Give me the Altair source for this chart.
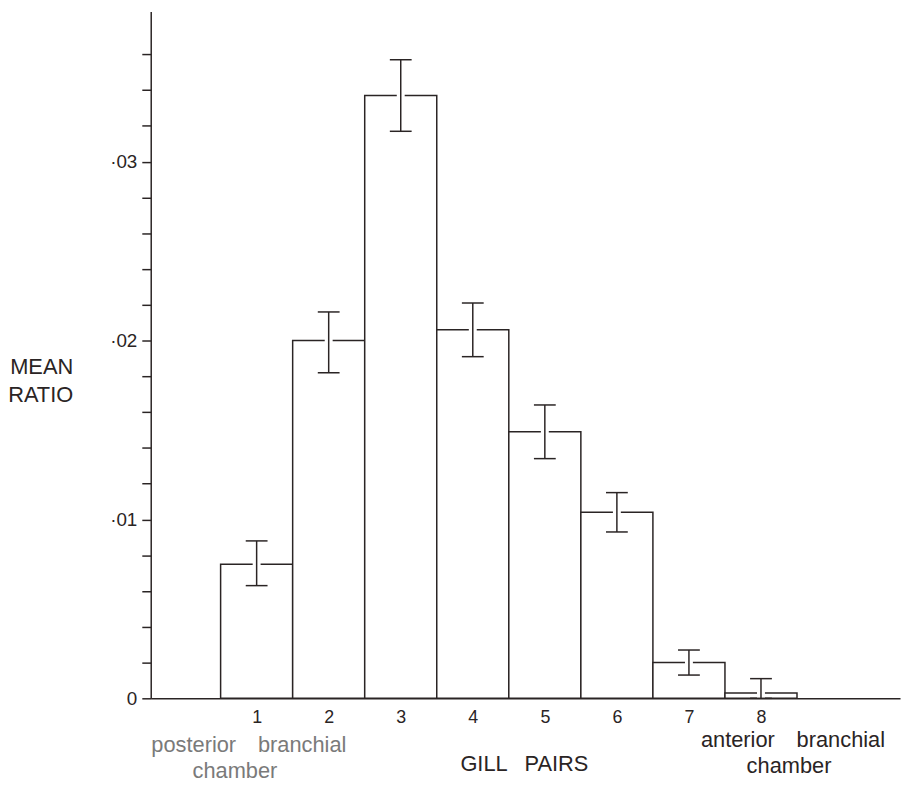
import altair as alt
import pandas as pd

# ---- data ----
gill = [1, 2, 3, 4, 5, 6, 7, 8]
mean_ratio = [0.0075, 0.0200, 0.0337, 0.0206, 0.0149, 0.0104, 0.0020, 0.0003]
err_upper = [0.0088, 0.0216, 0.0357, 0.0221, 0.0164, 0.0115, 0.0027, 0.0011]
err_lower = [0.0063, 0.0182, 0.0317, 0.0191, 0.0134, 0.0093, 0.0013, 0.0000]

y_tick_values = [0, 0.002, 0.004, 0.006, 0.008, 0.01, 0.012, 0.014, 0.016, 0.018,
                 0.02, 0.022, 0.024, 0.026, 0.028, 0.03, 0.032, 0.034, 0.036]
y_tick_labels = {0: "0", 0.01: "·01", 0.02: "·02", 0.03: "·03"}
x_tick_values = [1, 2, 3, 4, 5, 6, 7, 8]

INK = "#2a2424"
GREY = "#7a7a7a"
FONT = "Liberation Sans"

df = pd.DataFrame({"gill": gill, "mean": mean_ratio, "lo": err_lower, "hi": err_upper})
df["left"] = df["gill"] - 0.5
df["right"] = df["gill"] + 0.5

label_expr = " : ".join(
    [f"datum.value == {k} ? '{v}'" for k, v in y_tick_labels.items()]
) + " : ''"

x_scale = alt.Scale(domain=[-0.47, 9.93], nice=False, zero=False)
y_scale = alt.Scale(domain=[0, 0.0384], nice=False)

x_axis = alt.Axis(values=x_tick_values, format="d", ticks=False, labelFontSize=18,
                  labelPadding=10, labelFont=FONT, labelColor=INK, title=None,
                  domainColor=INK, domainWidth=1.5, grid=False, zindex=1)
y_axis = alt.Axis(values=y_tick_values, labelExpr=label_expr, tickSize=9, tickWidth=1.5,
                  tickColor=INK, labelFontSize=19, labelFont=FONT, labelColor=INK,
                  labelPadding=5, title=None, domainColor=INK, domainWidth=1.5,
                  grid=False, zindex=1)

base = alt.Chart(df)

bars = base.mark_bar(fill="white", stroke=INK, strokeWidth=1.5).encode(
    x=alt.X("left:Q", scale=x_scale, axis=x_axis),
    x2="right:Q",
    y=alt.Y("mean:Q", scale=y_scale, axis=y_axis),
    y2=alt.Y2(datum=0),
)

halo = base.mark_rule(color="white", strokeWidth=8).encode(
    x=alt.X("gill:Q", scale=x_scale, axis=x_axis),
    y=alt.Y("lo:Q", scale=y_scale, axis=y_axis),
    y2="hi:Q",
)

err = base.mark_rule(color=INK, strokeWidth=1.5).encode(
    x=alt.X("gill:Q", scale=x_scale, axis=x_axis),
    y=alt.Y("lo:Q", scale=y_scale, axis=y_axis),
    y2="hi:Q",
)

cap_hi = base.mark_tick(orient="horizontal", size=22, thickness=1.5, color=INK, opacity=1).encode(
    x=alt.X("gill:Q", scale=x_scale, axis=x_axis),
    y=alt.Y("hi:Q", scale=y_scale, axis=y_axis),
)
cap_lo = base.mark_tick(orient="horizontal", size=22, thickness=1.5, color=INK, opacity=1).encode(
    x=alt.X("gill:Q", scale=x_scale, axis=x_axis),
    y=alt.Y("lo:Q", scale=y_scale, axis=y_axis),
)


def label(text, x, y, color=INK, size=22):
    return alt.Chart(pd.DataFrame({"t": [text]})).mark_text(
        align="center", baseline="middle", font=FONT, fontSize=size, color=color
    ).encode(x=alt.value(x), y=alt.value(y), text="t:N")


texts = [
    label("MEAN", -110, 359),
    label("RATIO", -111, 387),
    label("posterior\u2003branchial", 99, 740, GREY),
    label("chamber", 85, 766, GREY),
    label("GILL\u2002\u00a0PAIRS", 377, 759),
    label("anterior\u2003branchial", 648, 735),
    label("chamber", 644, 761),
]

chart = alt.layer(bars, halo, err, cap_hi, cap_lo, *texts).properties(
    width=756,
    height=693,
    padding={"left": 144, "top": 0, "right": 4, "bottom": 86},
    autosize=alt.AutoSizeParams(type="none"),
    background="white",
).configure_view(strokeWidth=0)

chart.save("out.html", embed_options={"renderer": "svg", "actions": False})
